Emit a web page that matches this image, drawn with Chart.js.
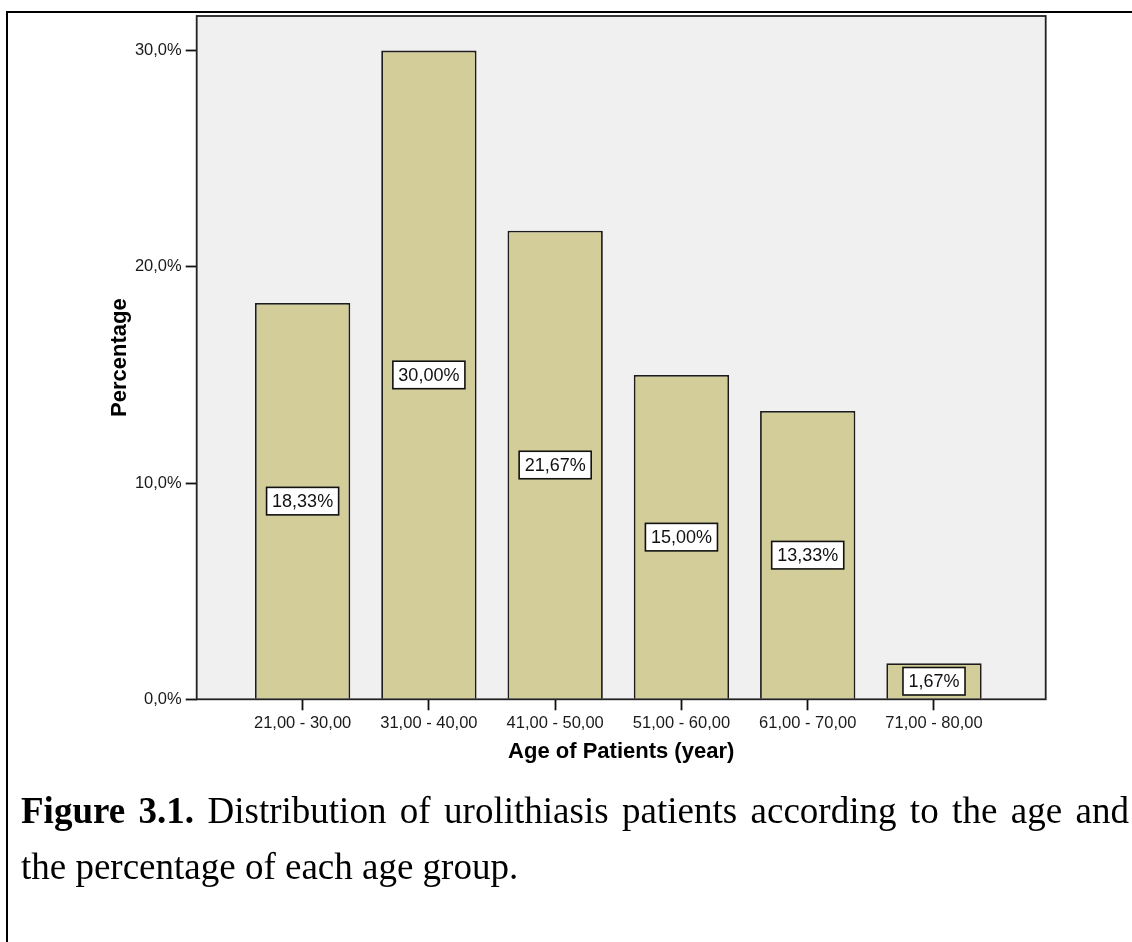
<!DOCTYPE html>
<html>
<head>
<meta charset="utf-8">
<title>Age of Patients</title>
<script src="https://cdn.jsdelivr.net/npm/chart.js@4.4.0/dist/chart.umd.min.js"></script>
<style>
  html, body { margin: 0; padding: 0; background: #fff; }
  body { width: 1132px; height: 942px; position: relative; overflow: hidden; }
  #sheet {
    position: absolute; left: 6px; top: 11px; width: 1126px; height: 931px;
    border-top: 2px solid #000; border-left: 2px solid #000; box-sizing: border-box;
  }
  #chart { position: absolute; left: 0; top: 0; }
  .cap {
    position: absolute; left: 21px; width: 1108px;
    font-family: "Liberation Serif", "Times New Roman", serif;
    font-size: 37px; line-height: 56px; color: #000;
  }
  #cap1 { top: 783px; text-align: justify; text-align-last: justify; }
  #cap2 { top: 839px; text-align: left; }
</style>
</head>
<body>
<div id="sheet"></div>
<canvas id="chart" width="1132" height="942"></canvas>
<div class="cap" id="cap1"><b>Figure 3.1.</b> Distribution of urolithiasis patients according to the age and</div>
<div class="cap" id="cap2">the percentage of each age group.</div>
<script>
// Age groups and the share of patients in each one (%)
const ageGroups = ['21,00 - 30,00', '31,00 - 40,00', '41,00 - 50,00', '51,00 - 60,00', '61,00 - 70,00', '71,00 - 80,00'];
const percentages = [18.33, 30.00, 21.67, 15.00, 13.33, 1.67];
const yTicks = [0, 10, 20, 30];

const SANS = '"Liberation Sans", Arial, Helvetica, sans-serif';
const comma = (v, d) => v.toFixed(d).replace('.', ',');

// Grey plot panel, its frame and the value boxes centred in each bar
const plotDecor = {
  id: 'plotDecor',
  beforeDraw(chart) {
    const { ctx, chartArea: a } = chart;
    ctx.save();
    ctx.fillStyle = '#f0f0f0';
    ctx.fillRect(a.left, a.top, a.right - a.left, a.bottom - a.top);
    ctx.restore();
  },
  afterDatasetsDraw(chart) {
    const { ctx, chartArea: a } = chart;
    ctx.save();
    ctx.strokeStyle = '#222';
    ctx.lineWidth = 1.8;
    ctx.strokeRect(a.left, a.top, a.right - a.left, a.bottom - a.top);

    const yScale = chart.scales.y;
    const meta = chart.getDatasetMeta(0);
    ctx.font = '18px ' + SANS;
    ctx.textAlign = 'center';
    ctx.textBaseline = 'middle';
    meta.data.forEach((bar, i) => {
      const v = percentages[i];
      const text = comma(v, 2) + '%';
      const cy = yScale.getPixelForValue(v / 2);
      const w = ctx.measureText(text).width + 11;
      const h = 27.5;
      ctx.fillStyle = '#fff';
      ctx.fillRect(bar.x - w / 2, cy - h / 2, w, h);
      ctx.strokeStyle = '#111';
      ctx.lineWidth = 1.6;
      ctx.strokeRect(bar.x - w / 2, cy - h / 2, w, h);
      ctx.fillStyle = '#111';
      ctx.fillText(text, bar.x, cy + 1);
    });
    ctx.restore();
  }
};

new Chart(document.getElementById('chart'), {
  type: 'bar',
  data: {
    datasets: [{
      data: percentages.map((v, i) => ({ x: i + 1, y: v })),
      backgroundColor: '#d3ce99',
      borderColor: '#1c1c1c',
      borderWidth: 1.8,
      barPercentage: 0.755,
      categoryPercentage: 1
    }]
  },
  options: {
    responsive: false,
    animation: false,
    devicePixelRatio: 1,
    layout: { padding: { left: 0, top: 16, right: 86.3, bottom: 162.7 } },
    plugins: { legend: { display: false }, tooltip: { enabled: false }, title: { display: false } },
    scales: {
      x: {
        type: 'linear',
        min: 0.1613,
        max: 6.8846,
        offset: false,
        afterBuildTicks: s => { s.ticks = ageGroups.map((_, i) => ({ value: i + 1 })); },
        afterFit: s => { s.height = 80; },
        grid: { display: true, drawOnChartArea: false, drawTicks: true, tickLength: 11, tickColor: '#111', tickWidth: 1.8, offset: false },
        border: { display: false },
        ticks: {
          autoSkip: false, maxRotation: 0, padding: 3,
          color: '#1a1a1a',
          font: { family: SANS, size: 16.5 },
          callback: (v, i) => ageGroups[i]
        },
        title: {
          display: true, text: 'Age of Patients (year)', color: '#000',
          font: { family: SANS, size: 22, weight: 'bold', lineHeight: 1.2 },
          padding: { top: 0, bottom: 14.4 }
        }
      },
      y: {
        min: 0,
        max: 31.6,
        afterBuildTicks: s => { s.ticks = yTicks.map(v => ({ value: v })); },
        afterFit: s => { s.width = 196.7; },
        grid: { display: true, drawOnChartArea: false, drawTicks: true, tickLength: 11, tickColor: '#111', tickWidth: 1.8 },
        border: { display: false },
        ticks: {
          padding: 4,
          color: '#1a1a1a',
          font: { family: SANS, size: 16.5 },
          callback: v => comma(v, 1) + '%'
        },
        title: {
          display: true, text: 'Percentage', color: '#000',
          font: { family: SANS, size: 22, weight: 'bold', lineHeight: 1.2 },
          padding: { top: 107, bottom: 0 }
        }
      }
    }
  },
  plugins: [plotDecor]
});
</script>
</body>
</html>
